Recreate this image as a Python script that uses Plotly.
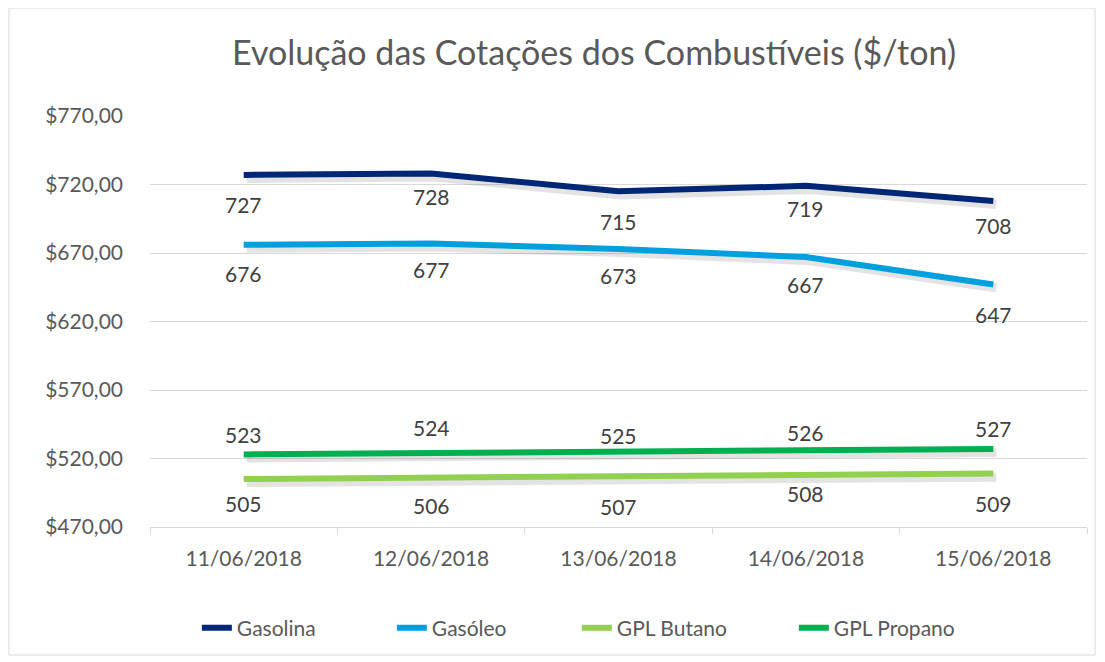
import plotly.graph_objects as go

# ---- data ----
dates = ["11/06/2018", "12/06/2018", "13/06/2018", "14/06/2018", "15/06/2018"]
gasolina = [727, 728, 715, 719, 708]
gasoleo = [676, 677, 673, 667, 647]
butano = [505, 506, 507, 508, 509]
propano = [523, 524, 525, 526, 527]
y_ticks = [470, 520, 570, 620, 670, 720, 770]
y_ticktext = ["$" + f"{v:.2f}".replace(".", ",") for v in y_ticks]

# ---- styles ----
FONT = "Lato, 'Open Sans', sans-serif"
TXT = "#595959"
GRID = "#D9D9D9"
# per-point vertical label offsets in px (style only)
shift_gasolina = [-30, -23, -30, -23, -25]
shift_gasoleo = [-29, -26, -27, -27, -30]
shift_butano = [-24, -28, -30, -19, -30]
shift_propano = [20, 26, 16, 18, 20]
series = [
    # name, values, color, label shifts, legend width
    ("Gasolina", gasolina, "#002776", shift_gasolina, 150),
    ("Gasóleo", gasoleo, "#00A0DF", shift_gasoleo, 140),
    ("GPL Butano", butano, "#92D050", shift_butano, 172),
    ("GPL Propano", propano, "#00B050", shift_propano, 120),
]

Y0, Y1 = 470, 770
SH_Y = 2.6      # shadow offset in data units (down)
SH_X = 0.016    # shadow offset in category units (right)

# page offset (body margin of the html page)
OFF = 8
L, T, R, B = 150 - OFF, 116 - OFF, 1105 - (1087 - OFF), 662 - (527 - OFF)
PW, PH = 937, 411

fig = go.Figure()

# shadows on the (hidden) main axes with shifted ranges
for name, vals, color, shifts, lw in series:
    fig.add_trace(go.Scatter(
        x=dates, y=vals, mode="lines", xaxis="x", yaxis="y",
        line=dict(color="rgba(0,0,0,0.11)", width=9),
        showlegend=False, hoverinfo="skip"))

# real lines on the visible overlay axes
for name, vals, color, shifts, lw in series:
    fig.add_trace(go.Scatter(
        x=dates, y=vals, mode="lines", name=name, xaxis="x2", yaxis="y2",
        line=dict(color=color, width=6), legendwidth=lw))

annotations = []
for name, vals, color, shifts, lw in series:
    for d, v, s in zip(dates, vals, shifts):
        annotations.append(dict(
            x=d, y=v, xref="x2", yref="y2", text=str(v), showarrow=False,
            yshift=s, font=dict(family=FONT, size=21, color="#404040")))

fig.update_layout(
    width=1105, height=662,
    margin=dict(l=L, r=R, t=T, b=B),
    paper_bgcolor="white", plot_bgcolor="white",
    font=dict(family=FONT, size=21, color=TXT),
    title=dict(text="Evolução das Cotações dos Combustíveis ($/ton)",
               x=(594 - OFF) / 1105, xref="container", xanchor="center",
               y=1 - (53 - OFF) / 662, yref="container", yanchor="middle",
               font=dict(family=FONT, size=34, color=TXT)),
    xaxis=dict(type="category", range=[-0.5 - SH_X, 4.5 - SH_X], visible=False),
    yaxis=dict(range=[Y0 + SH_Y, Y1 + SH_Y], visible=False),
    xaxis2=dict(type="category", overlaying="x", range=[-0.5, 4.5],
                showgrid=False, showline=True, linecolor=GRID, linewidth=1,
                ticks="outside", tickson="boundaries", ticklen=6, tickcolor=GRID,
                ticklabelstandoff=13,
                tickfont=dict(family=FONT, size=21, color=TXT)),
    yaxis2=dict(overlaying="y", range=[Y0, Y1], tickmode="array",
                tickvals=y_ticks, ticktext=y_ticktext,
                showgrid=True, gridcolor=GRID, gridwidth=1,
                zeroline=False, showline=False, ticks="",
                ticklabelstandoff=26,
                tickfont=dict(family=FONT, size=21, color=TXT)),
    legend=dict(orientation="h", x=0.05, xanchor="left",
                y=(527 - 628) / 411, yanchor="middle",
                font=dict(family=FONT, size=21, color=TXT),
                bgcolor="rgba(0,0,0,0)"),
    annotations=annotations,
    shapes=[dict(type="rect", xref="paper", yref="paper",
                 x0=(9 - 150) / PW, x1=(1095 - 150) / PW,
                 y0=(527 - 655) / PH, y1=(527 - 8) / PH,
                 line=dict(color=GRID, width=1), fillcolor="rgba(0,0,0,0)",
                 layer="below")],
)

fig.write_html("out.html")
